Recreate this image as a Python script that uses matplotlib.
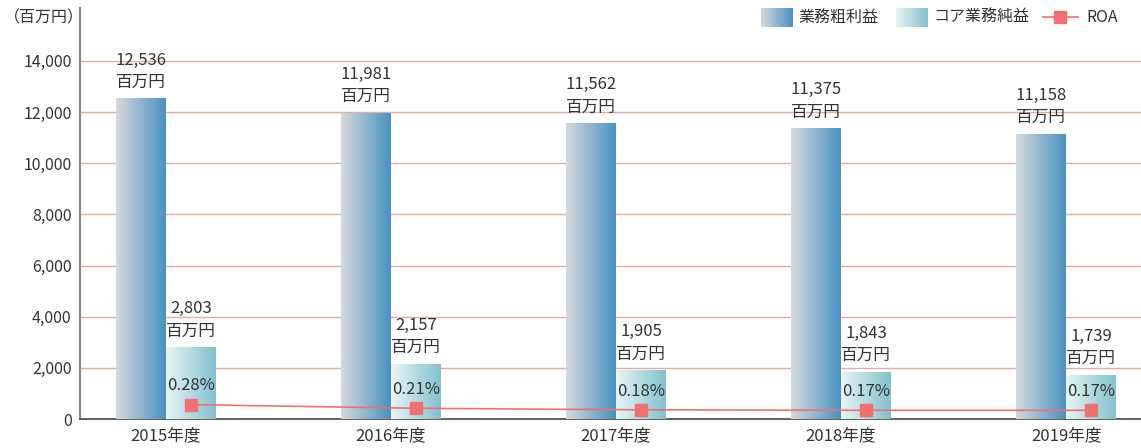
import numpy as np
import matplotlib
matplotlib.use("Agg")
import matplotlib.pyplot as plt
from matplotlib.colors import LinearSegmentedColormap

plt.rcParams['font.family'] = ['Noto Sans CJK JP', 'DejaVu Sans']

years = ['2015年度', '2016年度', '2017年度', '2018年度', '2019年度']
gross = [12536, 11981, 11562, 11375, 11158]   # 業務粗利益
core = [2803, 2157, 1905, 1843, 1739]         # コア業務純益
roa = [0.28, 0.21, 0.18, 0.17, 0.17]          # ROA (%)
yticks = [0, 2000, 4000, 6000, 8000, 10000, 12000, 14000]

txt = '#333333'
cmap1 = LinearSegmentedColormap.from_list('g1', ['#d6d9dd', '#4892c2'])
cmap2 = LinearSegmentedColormap.from_list('g2', ['#e8f5f5', '#82c1cd'])
grad = np.linspace(0, 1, 256).reshape(1, -1)

fig = plt.figure(figsize=(11.41, 4.48), dpi=100)
ax = fig.add_axes([80 / 1141, 1 - 419 / 448, 1 - 80 / 1141, 411 / 448])

w = 0.222
x = np.arange(len(years))


def grad_bar(xc, h, cmap):
    bar = ax.bar(xc, h, w, color='none', edgecolor='none', zorder=3)[0]
    im = ax.imshow(grad, cmap=cmap, extent=[xc - w / 2, xc + w / 2, 0, h],
                   aspect='auto', zorder=3)
    im.set_clip_path(bar)


for i in range(len(years)):
    grad_bar(x[i] - w / 2, gross[i], cmap1)
    grad_bar(x[i] + w / 2, core[i], cmap2)
    ax.text(x[i] - w / 2, gross[i] + 300, f'{gross[i]:,}\n百万円', ha='center',
            va='bottom', fontsize=12, color=txt, linespacing=1.4, zorder=5)
    ax.text(x[i] + w / 2, core[i] + 300, f'{core[i]:,}\n百万円', ha='center',
            va='bottom', fontsize=12, color=txt, linespacing=1.4, zorder=5)

ax.set_xlim(-0.382, 4.333)
ax.set_ylim(0, 16070)
ax.set_yticks(yticks)
ax.set_yticklabels([f'{v:,}' for v in yticks], fontsize=11.5, color=txt)
ax.set_xticks(x)
ax.set_xticklabels(years, fontsize=12, color=txt)
ax.tick_params(length=0, pad=6)
ax.grid(axis='y', color='#e6ad9e', linewidth=1, zorder=1)
ax.set_axisbelow(True)
for s in ['top', 'right']:
    ax.spines[s].set_visible(False)
ax.spines['left'].set_color('#888888')
ax.spines['left'].set_linewidth(1.5)
ax.spines['bottom'].set_color('#555555')
ax.spines['bottom'].set_linewidth(1.3)

# ROA on a hidden secondary scale
ax2 = ax.twinx()
ax2.set_ylim(0, 16070 / 2000)
ax2.axis('off')
ax2.plot(x + w / 2, roa, color='#f07070', linewidth=1.2, marker='s',
         markersize=9, zorder=6)
for i in range(len(years)):
    ax2.text(x[i] + w / 2, roa[i] + 0.2, f'{roa[i]:.2f}%', ha='center',
             va='bottom', fontsize=12, color=txt)

fig.text(44 / 1141, 1 - 18 / 448, '（百万円）', ha='center', va='center',
         fontsize=11.5, color=txt)

# legend
ly = 1 - 27 / 448
lh = 19 / 448
for x0, cm in [(761, cmap1), (896, cmap2)]:
    sw = fig.add_axes([x0 / 1141, ly, 32 / 1141, lh])
    sw.imshow(grad, cmap=cm, aspect='auto')
    sw.axis('off')
fig.text(798 / 1141, 1 - 17 / 448, '業務粗利益', va='center', fontsize=11.5, color=txt)
fig.text(933 / 1141, 1 - 17 / 448, 'コア業務純益', va='center', fontsize=11.5, color=txt)
fig.lines.append(plt.Line2D([1043 / 1141, 1078 / 1141], [1 - 17 / 448] * 2,
                            transform=fig.transFigure, color='#f07070',
                            linewidth=1.2))
fig.lines.append(plt.Line2D([1060 / 1141], [1 - 17 / 448],
                            transform=fig.transFigure, color='#f07070',
                            marker='s', markersize=9, linestyle='none'))
fig.text(1086 / 1141, 1 - 17 / 448, 'ROA', va='center', fontsize=11.5, color=txt)

fig.savefig('out.png', dpi=100)
